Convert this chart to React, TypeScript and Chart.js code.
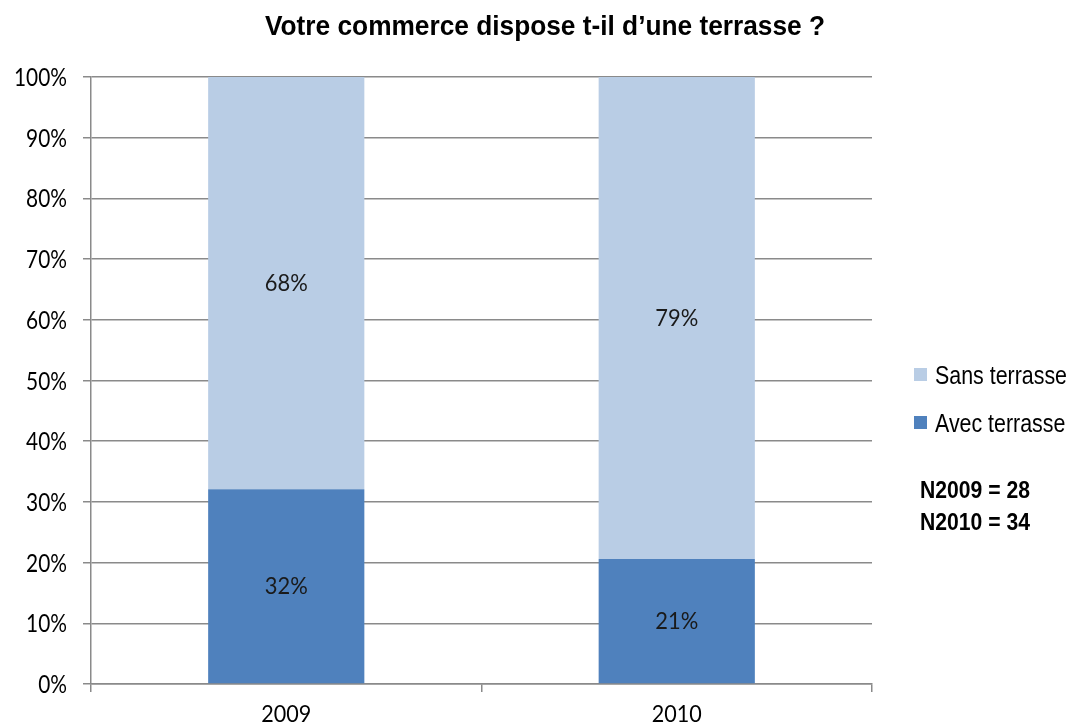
import React, { useEffect, useRef } from "react";
import { Chart, registerables } from "chart.js";

Chart.register(...registerables);

const categories = ["2009", "2010"];
const avecTerrasse = [32.1, 20.6];
const sansTerrasse = [67.9, 79.4];
const avecLabels = ["32%", "21%"];
const sansLabels = ["68%", "79%"];
const yTickLabels = ["0%", "10%", "20%", "30%", "40%", "50%", "60%", "70%", "80%", "90%", "100%"];
const seriesNames = ["Sans terrasse", "Avec terrasse"];
const notes = ["N2009 = 28", "N2010 = 34"];
const titleText = "Votre commerce dispose t-il d\u2019une terrasse ?";

const ARIAL = "'Liberation Sans', Arial, sans-serif";
const SOFT = "Lato, 'Open Sans', sans-serif";
const LIGHT = "#B9CDE5";
const DARK = "#4F81BD";
const GRID = "#8a8a8a";

function fitScale(ctx: CanvasRenderingContext2D, font: string, sample: string, target: number) {
  ctx.save();
  ctx.font = font;
  const w = ctx.measureText(sample).width;
  ctx.restore();
  return w > 0 ? target / w : 1;
}

function drawText(
  ctx: CanvasRenderingContext2D,
  text: string,
  x: number,
  y: number,
  font: string,
  sx: number,
  align: CanvasTextAlign,
  color: string
) {
  ctx.save();
  ctx.font = font;
  ctx.fillStyle = color;
  ctx.textAlign = align;
  ctx.textBaseline = "alphabetic";
  ctx.translate(x, y);
  ctx.scale(sx, 1);
  ctx.fillText(text, 0, 0);
  ctx.restore();
}

export default function App() {
  const ref = useRef<HTMLCanvasElement | null>(null);
  useEffect(() => {
    if (!ref.current) return;
    const overlay = {
      id: "overlay",
      afterDraw(chart: any) {
        const ctx: CanvasRenderingContext2D = chart.ctx;
        const area = chart.chartArea;
        // title
        const tFont = `bold 28px ${ARIAL}`;
        drawText(ctx, titleText, 545, 35, tFont, fitScale(ctx, tFont, titleText, 560), "center", "#000");
        // y tick labels
        const yFont = `25px ${SOFT}`;
        const ySx = fitScale(ctx, yFont, "100%", 53);
        const ys = chart.scales.y;
        ys.ticks.forEach((t: any, i: number) => {
          const py = ys.getPixelForTick(i);
          drawText(ctx, String(ys.getLabelForValue ? yTickLabels[Math.round(t.value / 10)] : t.label), 67, py + 9, yFont, ySx, "right", "#000");
        });
        // x tick labels
        const xFont = `24px ${SOFT}`;
        const xSx = fitScale(ctx, xFont, "2009", 50);
        const xsc = chart.scales.x;
        categories.forEach((c, i) => {
          drawText(ctx, c, xsc.getPixelForValue(i), 722, xFont, xSx, "center", "#000");
        });
        // data labels
        const dFont = `24px ${SOFT}`;
        const dSx = fitScale(ctx, dFont, "32%", 43);
        const labelSets = [avecLabels, sansLabels];
        chart.data.datasets.forEach((ds: any, di: number) => {
          const meta = chart.getDatasetMeta(di);
          meta.data.forEach((bar: any, i: number) => {
            const top = Math.min(bar.y, bar.base);
            const bot = Math.max(bar.y, bar.base);
            drawText(ctx, labelSets[di][i], bar.x, (top + bot) / 2 + 8, dFont, dSx, "center", "#1a1a1a");
          });
        });
        // legend
        const lFont = `25px ${ARIAL}`;
        const lSx = fitScale(ctx, lFont, "Sans terrasse", 132);
        const lx = area.right + 42;
        const legendItems = [
          { name: seriesNames[0], color: LIGHT, y: area.top + 298 },
          { name: seriesNames[1], color: DARK, y: area.top + 346 },
        ];
        legendItems.forEach((it) => {
          ctx.save();
          ctx.fillStyle = it.color;
          ctx.fillRect(lx, it.y - 7, 13, 13);
          ctx.restore();
          drawText(ctx, it.name, lx + 21, it.y + 9, lFont, lSx, "left", "#000");
        });
        const nFont = `bold 23px ${ARIAL}`;
        const nSx = fitScale(ctx, nFont, "N2009 = 28", 110);
        notes.forEach((n, i) => {
          drawText(ctx, n, lx + 6, area.top + 421 + i * 32, nFont, nSx, "left", "#000");
        });
      },
    };
    const chart = new Chart(ref.current, {
      type: "bar",
      data: {
        labels: categories,
        datasets: [
          {
            label: seriesNames[1],
            data: avecTerrasse,
            backgroundColor: DARK,
            borderWidth: 0,
            barPercentage: 0.4,
            categoryPercentage: 1,
          },
          {
            label: seriesNames[0],
            data: sansTerrasse,
            backgroundColor: LIGHT,
            borderWidth: 0,
            barPercentage: 0.4,
            categoryPercentage: 1,
          },
        ],
      },
      options: {
        animation: false,
        responsive: false,
        maintainAspectRatio: false,
        layout: { padding: { left: 0, top: 77, right: 202, bottom: 0 } },
        plugins: {
          legend: { display: false },
          title: { display: false },
          tooltip: { enabled: false },
        },
        scales: {
          x: {
            stacked: true,
            afterFit: (s: any) => {
              s.height = 43;
            },
            grid: {
              offset: true,
              drawOnChartArea: false,
              drawTicks: true,
              tickLength: 8,
              color: GRID,
              lineWidth: 1.5,
            },
            border: { color: GRID, width: 1.5 },
            ticks: {
              color: "rgba(0,0,0,0)",
              font: { size: 12 },
              padding: 4,
            },
          },
          y: {
            stacked: true,
            min: 0,
            max: 100,
            afterFit: (s: any) => {
              s.width = 91;
            },
            grid: {
              color: GRID,
              lineWidth: 1.5,
              tickLength: 8,
            },
            border: { color: GRID, width: 1.5 },
            ticks: {
              stepSize: 10,
              color: "rgba(0,0,0,0)",
              padding: 16,
              font: { size: 12 },
              callback: (v: any) => yTickLabels[Math.round(Number(v) / 10)],
            },
          },
        },
      },
      plugins: [overlay],
    });
    return () => chart.destroy();
  }, []);
  return (
    <div style={{ position: "fixed", left: 0, top: 0, width: 1074, height: 727, background: "#fff" }}>
      <canvas ref={ref} width={1074} height={727} style={{ width: 1074, height: 727 }} />
    </div>
  );
}
